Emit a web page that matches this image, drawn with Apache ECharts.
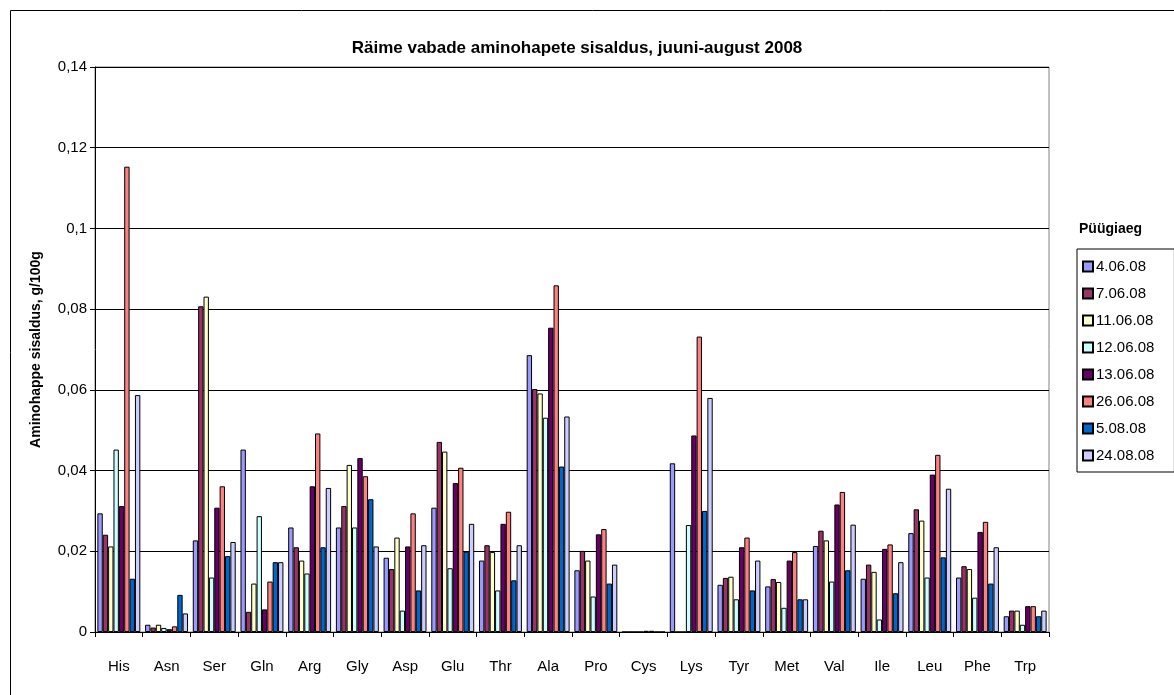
<!DOCTYPE html>
<html>
<head>
<meta charset="utf-8">
<script src="https://cdn.jsdelivr.net/npm/echarts@6/dist/echarts.min.js"></script>
<style>
html, body { margin: 0; padding: 0; background: #fff; }
#chart { width: 1174px; height: 695px; }
</style>
</head>
<body>
<div id="chart"></div>
<script>
var categories = ['His','Asn','Ser','Gln','Arg','Gly','Asp','Glu','Thr','Ala','Pro','Cys','Lys','Tyr','Met','Val','Ile','Leu','Phe','Trp'];

var yTicks = [0, 0.02, 0.04, 0.06, 0.08, 0.1, 0.12, 0.14];

var seriesNames = ['4.06.08','7.06.08','11.06.08','12.06.08','13.06.08','26.06.08','5.08.08','24.08.08'];

var d0406 = [0.0294,0.0018,0.0227,0.0452,0.0259,0.0259,0.0184,0.0308,0.0177,0.0686,0.0153,0,0.0418,0.0117,0.0113,0.0213,0.0132,0.0245,0.0135,0.0039];
var d0706 = [0.0241,0.0011,0.0807,0.0050,0.0210,0.0312,0.0156,0.0471,0.0215,0.0602,0.0201,0,0,0.0134,0.0131,0.0251,0.0167,0.0304,0.0163,0.0053];
var d1106 = [0.0212,0.0018,0.0831,0.0120,0.0177,0.0414,0.0234,0.0447,0.0198,0.0591,0.0177,0,0,0.0137,0.0124,0.0227,0.0149,0.0276,0.0156,0.0053];
var d1206 = [0.0452,0.0010,0.0135,0.0287,0.0145,0.0259,0.0053,0.0158,0.0103,0.0531,0.0088,0,0.0265,0.0081,0.0060,0.0125,0.0031,0.0135,0.0085,0.0018];
var d1306 = [0.0312,0.0007,0.0308,0.0056,0.0361,0.0431,0.0212,0.0369,0.0268,0.0754,0.0242,0.0003,0.0487,0.0210,0.0177,0.0316,0.0206,0.0390,0.0248,0.0064];
var d2606 = [0.1153,0.0014,0.0361,0.0125,0.0492,0.0386,0.0294,0.0407,0.0298,0.0859,0.0255,0.0003,0.0732,0.0234,0.0198,0.0347,0.0217,0.0439,0.0273,0.0064];
var d0508 = [0.0132,0.0092,0.0188,0.0173,0.0210,0.0329,0.0103,0.0199,0.0128,0.0410,0.0120,0,0.0300,0.0103,0.0081,0.0153,0.0096,0.0185,0.0120,0.0039];
var d2408 = [0.0587,0.0046,0.0223,0.0173,0.0357,0.0212,0.0215,0.0268,0.0215,0.0534,0.0167,0,0.0580,0.0177,0.0081,0.0266,0.0173,0.0355,0.0210,0.0053];

var allData = [d0406, d0706, d1106, d1206, d1306, d2606, d0508, d2408];
var colors = ['#9999FF','#993366','#FFFFCC','#CCFFFF','#660066','#FF8080','#0066CC','#CCCCFF'];

var font = 'Liberation Sans, Arial, sans-serif';

var myChart = echarts.init(document.getElementById('chart'));

var series = [];
for (var i = 0; i < seriesNames.length; i++) {
    series.push({
        name: seriesNames[i],
        type: 'bar',
        data: allData[i],
        barGap: '0%',
        barCategoryGap: '10%',
        itemStyle: { color: colors[i], borderColor: '#000', borderWidth: 1 },
        emphasis: { disabled: true }
    });
}

var option = {
    animation: false,
    backgroundColor: '#fff',
    title: [
        {
            text: 'Räime vabade aminohapete sisaldus, juuni-august 2008',
            left: 572, top: 35, textAlign: 'center',
            textStyle: { fontFamily: font, fontSize: 17, fontWeight: 'bold', color: '#000' }
        },
        {
            text: 'Püügiaeg',
            left: 1074, top: 217,
            textStyle: { fontFamily: font, fontSize: 14, fontWeight: 'bold', color: '#000' }
        }
    ],
    graphic: [
        { type: 'line', shape: { x1: 10.5, y1: 695, x2: 10.5, y2: 10.5 }, style: { stroke: '#000', lineWidth: 1 } },
        { type: 'line', shape: { x1: 10.5, y1: 10.5, x2: 1174, y2: 10.5 }, style: { stroke: '#000', lineWidth: 1 } }
    ],
    legend: {
        orient: 'vertical',
        left: 1077, top: 249,
        padding: [10, 20, 9, 5],
        itemWidth: 10, itemHeight: 10, itemGap: 12,
        borderColor: '#000', borderWidth: 1,
        icon: 'rect',
        textStyle: { fontFamily: font, fontSize: 15, color: '#000', padding: [0, 0, 0, -2] },
        data: seriesNames
    },
    grid: {
        left: 95, right: 125, top: 67, bottom: 63,
        show: true, borderColor: '#808080', borderWidth: 1
    },
    xAxis: {
        type: 'category',
        data: categories,
        axisLine: { lineStyle: { color: '#000', width: 1 } },
        axisTick: { show: true, length: 5, lineStyle: { color: '#000' } },
        axisLabel: { fontFamily: font, fontSize: 15, color: '#000', margin: 27, interval: 0 }
    },
    yAxis: {
        type: 'value',
        min: 0, max: 0.14, interval: 0.02,
        name: 'Aminohappe sisaldus, g/100g',
        nameLocation: 'middle',
        nameRotate: 90,
        nameGap: 52,
        nameTextStyle: { fontFamily: font, fontSize: 14, fontWeight: 'bold', color: '#000' },
        axisLine: { show: true, lineStyle: { color: '#000', width: 1 } },
        axisTick: { show: true, length: 5, lineStyle: { color: '#000' } },
        splitLine: { show: true, lineStyle: { color: '#000', width: 1 } },
        axisLabel: {
            fontFamily: font, fontSize: 15, color: '#000', margin: 8,
            formatter: function (v) {
                for (var k = 0; k < yTicks.length; k++) {
                    if (Math.abs(yTicks[k] - v) < 1e-9) return String(yTicks[k]).replace('.', ',');
                }
                return String(+v.toFixed(4)).replace('.', ',');
            }
        }
    },
    series: series
};

myChart.setOption(option);
</script>
</body>
</html>
